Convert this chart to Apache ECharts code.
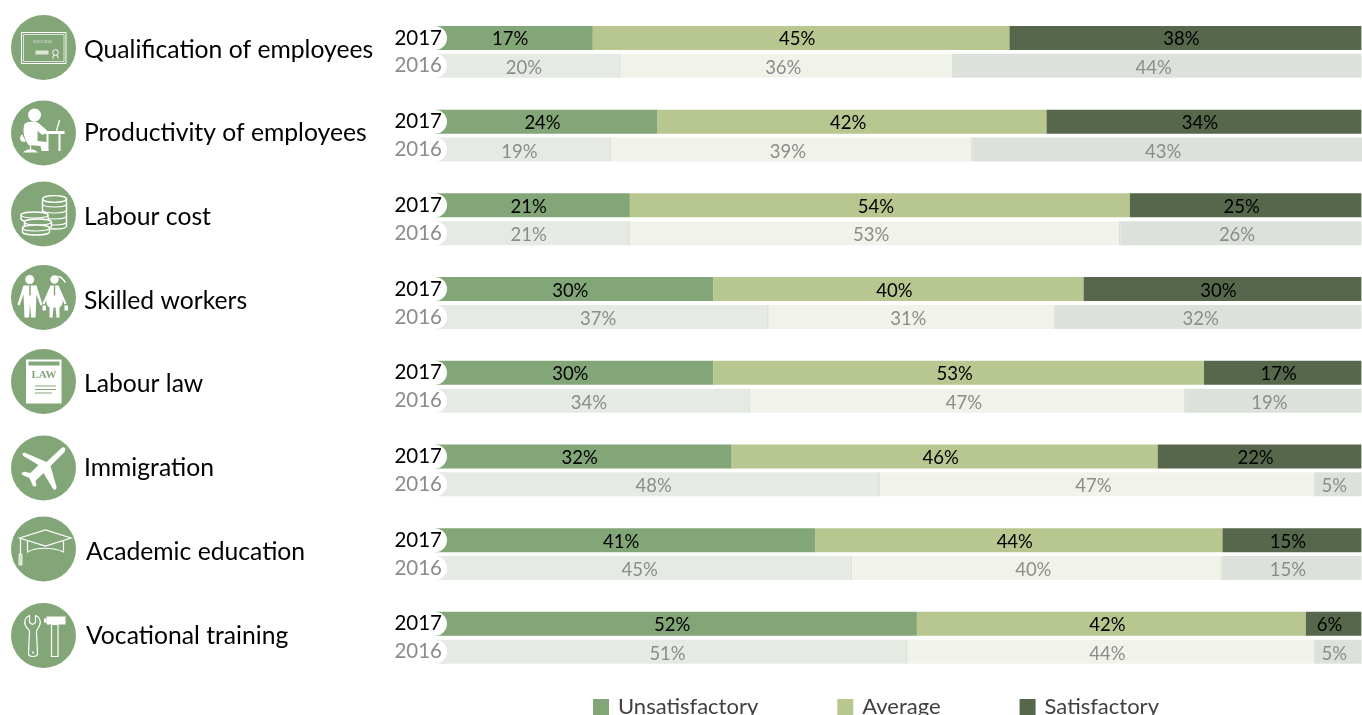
<!DOCTYPE html>
<html><head><meta charset="utf-8">
<style>html,body{margin:0;padding:0;background:#fff;overflow:hidden}#c{width:1362px;height:715px}</style>
<script src="https://cdn.jsdelivr.net/npm/echarts@6/dist/echarts.min.js"></script>
</head><body><div id="c"></div>
<script>
const topics = ['Qualification of employees','Productivity of employees','Labour cost','Skilled workers','Labour law','Immigration','Academic education','Vocational training'];
const years = ['2017','2016'];
const seriesNames = ['Unsatisfactory','Average','Satisfactory'];
const unsat2017 = [17,24,21,30,30,32,41,52];
const avg2017   = [45,42,54,40,53,46,44,42];
const sat2017   = [38,34,25,30,17,22,15,6];
// 2016 bar lengths as drawn in the picture
const unsat2016 = [20,19,21,36,34,48,45,51];
const avg2016   = [36,39,53,31,47,47,40,44];
const sat2016   = [44,43,26,33,19,5,15,5];
// 2016 numbers as printed on the bars (Skilled workers differs from its drawn length)
const unsat2016Printed = [20,19,21,37,34,48,45,51];
const avg2016Printed   = [36,39,53,31,47,47,40,44];
const sat2016Printed   = [44,43,26,32,19,5,15,5];
const colors2017 = ['#83A679','#B8C690','#56674B'];
const colors2016 = ['#E6EAE4','#F1F3EA','#DDE1DC'];
const divider2016 = '#DCE3D2';
const labelColors = ['#000000','#8C8C8C'];
const iconGreen = '#83A679';
const FONT = 'Lato, "Open Sans", sans-serif';
const pxPerUnit = 9.26;

const cats = [];
topics.forEach(() => { cats.push(years[0], years[1], ''); });
function fill2016(value, k){
  if (k === 2) return colors2016[k];
  const e = 1 - 1.5 / (value * pxPerUnit);
  return new echarts.graphic.LinearGradient(0,0,1,0,[
    {offset:0,color:colors2016[k]},{offset:e,color:colors2016[k]},
    {offset:e,color:divider2016},{offset:1,color:divider2016}]);
}
function rows(a17, a16, printed, k){
  const out = [];
  topics.forEach((t,i) => {
    out.push({value:a17[i], shown:a17[i], itemStyle:{color:colors2017[k]}, label:{color:labelColors[0]}});
    const dx = (k === 2 && printed[i] !== a16[i]) ? -8 : -4;
    out.push({value:a16[i], shown:printed[i], itemStyle:{color:fill2016(a16[i],k)}, label:{color:labelColors[1], offset:[dx,2]}});
    out.push({value:null});
  });
  return out;
}
const stacks = [[unsat2017,unsat2016,unsat2016Printed],[avg2017,avg2016,avg2016Printed],[sat2017,sat2016,sat2016Printed]];
const series = seriesNames.map((n,k) => ({
  name:n, type:'bar', stack:'all', barWidth:24, data:rows(stacks[k][0],stacks[k][1],stacks[k][2],k),
  itemStyle:{color:colors2017[k]}, silent:true,
  label:{show:true, position:'inside', offset:[-4,1.5], formatter:p=>p.value==null?'':p.data.shown+'%', fontFamily:FONT, fontSize:18.5}
}));

const labelPos = [[84,50],[84,133],[84,217],[84,301],[84,384],[84,468],[86,552],[86,636]];
const circleY = [47.5,133,214,297.5,381.5,468,549,635.5];
const W = '#FFFFFF';
let shapeCount = 0;
function P(d,fill,stroke,lw){
  const name = 'iconShape' + (shapeCount++);
  echarts.graphic.registerShape(name, echarts.graphic.extendPath(d));
  return {type:name, style:{fill:fill||'transparent', stroke:stroke||'transparent', lineWidth:lw||0}};
}
function C(x,y,r,fill,stroke,lw){ return {type:'circle', shape:{cx:x,cy:y,r:r}, style:{fill:fill||'transparent', stroke:stroke||'transparent', lineWidth:lw||0}}; }
function R(x,y,w,h,fill,stroke,lw){ return {type:'rect', shape:{x:x,y:y,width:w,height:h}, style:{fill:fill||'transparent', stroke:stroke||'transparent', lineWidth:lw||0}}; }
const person = [
  C(-9,-18,6.5,W),
  P('M-19,-9 C-15,-12 -8,-12 -5,-10 L3,-3 L4,-1 L-1,2 L-6,-2 L-6,8 L3,9 L5,18 L-2,18 L-3,13 L-15,12 C-20,5 -21,-3 -19,-9 Z',W),
  R(1,-2,20,3,W),R(3,-1,2,19,W),R(15,-1,2,19,W),
  P('M13,-2 L16,-13','transparent',W,1.3),
  P('M-21,2 C-25,6 -22,9 -18,8 M-13,12 L-13,17 M-19,19 C-16,16 -10,16 -7,19 Z',W,W,1.2)
];
const coins = (()=>{
  const a=[];
  a.push(P('M-1,-15 L-1,12 C-1,16 23,16 23,12 L23,-15','transparent',W,1.4));
  a.push(P('M-1,-15 C-1,-19.5 23,-19.5 23,-15 C23,-10.5 -1,-10.5 -1,-15 Z','transparent',W,1.4));
  [-8,-2,4,10].forEach(y=>{a.push(P(`M-1,${y-2} C-1,${y+2} 23,${y+2} 23,${y-2}`,'transparent',W,1.2));});
  [[-22.5,1],[-19,8],[-21,14]].forEach(c=>{const x=c[0],y=c[1],r=x+27;
    a.push(P(`M${x},${y} C${x},${y-4} ${r},${y-4} ${r},${y} L${r},${y+4} C${r},${y+8} ${x},${y+8} ${x},${y+4} Z`,iconGreen,W,1.4));
    a.push(P(`M${x},${y} C${x},${y+4} ${r},${y+4} ${r},${y}`,'transparent',W,1.2));});
  return a;
})();
const skilled = [
  C(-13.8,-18,4.5,W),
  P('M-20,-12 L-7,-12 L-1,7 L-3,8 L-7,-3 L-8,20 L-12.5,20 L-13.5,6 L-14.5,20 L-19,20 L-20,-3 L-24,8 L-26,7 Z',W),
  P('M-13.5,-12 L-13.5,-2','transparent',iconGreen,1.5),
  R(-1,8,3.5,5,W),
  C(11,-18,4.2,W),
  P('M14,-21 C19,-21 20,-17 22,-15','transparent',W,1.4),
  P('M7,-12 L15,-12 L23,6 L21,7 L17,-3 C20,2 20,7 16,10 L16,20 L13,20 L12,10 L10,10 L9,20 L6,20 L6,10 C2,7 2,2 5,-3 L1,7 L-1,6 Z',W),
  P('M11,-12 L11,-2','transparent',iconGreen,1.4),
  R(21,8,3.5,5,W)
];
const law = [
  R(-17.5,-22,35.5,44,W),
  R(-15,-20,31,4,iconGreen),
  {type:'text', x:0.5, y:-6.5, style:{text:'LAW', fontFamily:'"Liberation Serif", serif', fontSize:11, fontWeight:'bold', fill:iconGreen, align:'center', verticalAlign:'middle'}},
  R(-8.5,4,21,1,iconGreen),R(-8.5,7.5,21,1,iconGreen),R(-8.5,11,17,1,iconGreen)
];
const plane = [
  P('M18,-20 C21,-22 23,-19 21,-16 L7,-2 L13,19 C13,23 10,22 9,20 L0,5 L-8,13 L-7,17 C-8,20 -11,18 -11,17 L-14,10 L-21,7 C-23,5 -20,3 -18,4 L-13,5 L-5,-3 L-20,-12 C-22,-14 -21,-16 -18,-15 L3,-6 Z',W)
];
const hat = [
  P('M-24,-11 L2,-19 L27.5,-11 L2,-3 Z','transparent',W,1.2),
  P('M-16,-8 L-16,3 C-8,-2 10,-2 20,3 L20,-8','transparent',W,1.2),
  P('M-23,-11 L-23,5','transparent',W,1.2),
  R(-24.5,5,3,11,'#CFDCC9',W,0.8)
];
const tools = [
  P('M-14,-20 L-14,-13 L-11,-11 L-8,-13 L-8,-20 C-4,-19 -2,-14 -4,-10 C-5,-7 -7,-6 -7,-4 L-6,18 C-6,22 -15,22 -15,18 L-14,-4 C-14,-6 -17,-7 -18,-10 C-20,-14 -18,-19 -14,-20 Z','transparent',W,1.2),
  C(-10.5,17,1,W),
  P('M3,-19 L22,-19 L22,-11 L3,-11 Z',W),
  R(8,-11,6.5,32,'transparent',W,1.2),
  R(0.5,-17,2.5,4,W)
];
const cert = [
  R(-22,-15,44.5,31,'transparent',W,1),
  R(-20,-13,40.5,27,'transparent',W,0.7),
  {type:'text', x:-1, y:-5.5, style:{text:'SUCCESS', fontFamily:'"Liberation Serif", serif', fontSize:4.5, fill:'#DDE6D8', align:'center', verticalAlign:'middle'}},
  R(-8,3,13,4,'#DDE6D8'),
  C(12,5,2.8,'transparent',W,1),
  P('M10.5,7.5 L9,11 M13.5,7.5 L15,11','transparent',W,1)
];
const icons = [cert,person,coins,skilled,law,plane,hat,tools];
const graphic = [];
circleY.forEach((y,i) => {
  graphic.push({type:'group', x:43.5, y:y, silent:true, children:[C(0,0,32.5,iconGreen)].concat(icons[i])});
  graphic.push({type:'text', x:labelPos[i][0], y:labelPos[i][1], silent:true, style:{text:topics[i], fontFamily:FONT, fontSize:24.7, fill:'#000', verticalAlign:'middle'}});
});

const chart = echarts.init(document.getElementById('c'), null, {renderer:'canvas'});
chart.setOption({
  animation:false, backgroundColor:'#fff',
  grid:{left:435.4, right:0, top:24, height:669.6, containLabel:false},
  xAxis:{type:'value', min:0, max:926.6/pxPerUnit, show:false},
  yAxis:{type:'category', inverse:true, data:cats, z:5,
    axisLine:{show:false}, axisTick:{show:false}, splitLine:{show:false},
    axisLabel:{show:true, interval:(i)=>i%3!==2, margin:-11.6, fontFamily:FONT, fontSize:20.5,
      color:v=>v===years[0]?labelColors[0]:labelColors[1],
      backgroundColor:'#fff', padding:[0,5,0,3], lineHeight:24, height:24, borderRadius:[0,12,12,0]}},
  legend:{left:588, top:691, itemWidth:16, itemHeight:16, itemGap:79, icon:'rect', selectedMode:false,
    data:seriesNames, textStyle:{fontFamily:FONT, fontSize:22, color:'#404040', padding:[0,0,0,4]}},
  series:series,
  graphic:graphic
});
</script></body></html>
